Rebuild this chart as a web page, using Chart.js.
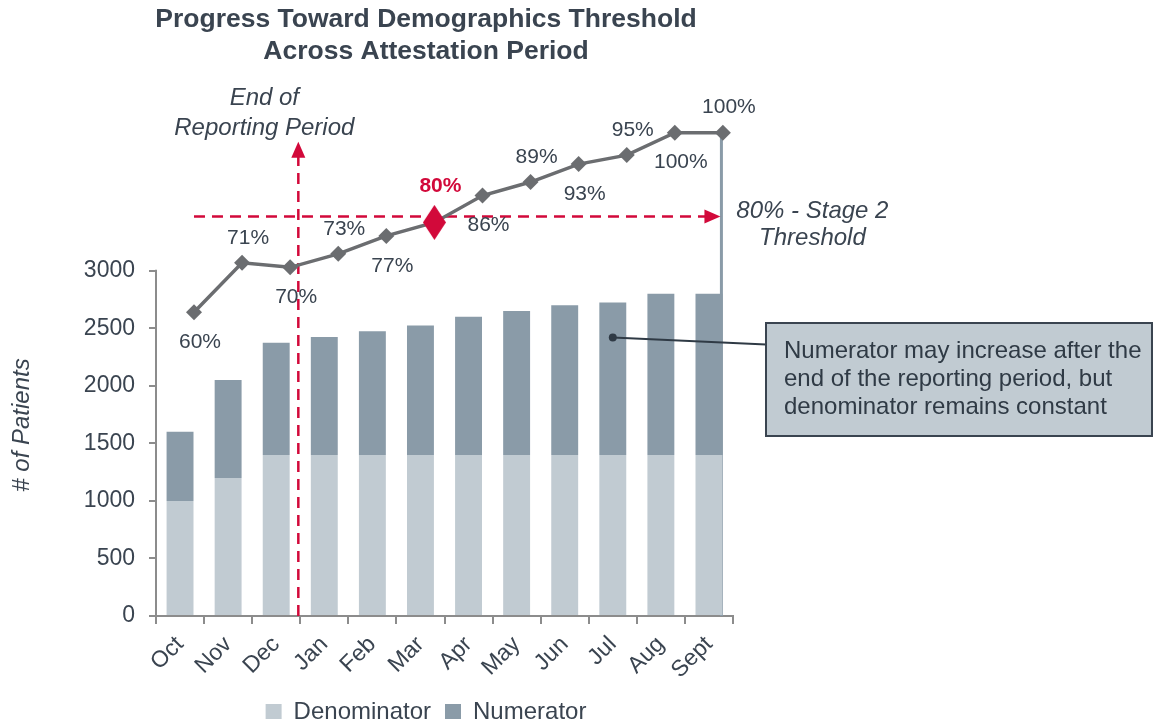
<!DOCTYPE html>
<html>
<head>
<meta charset="utf-8">
<script src="https://cdn.jsdelivr.net/npm/chart.js@4.4.1/dist/chart.umd.min.js"></script>
<style>
  html, body { margin: 0; padding: 0; background: #ffffff; }
  #wrap { width: 1154px; height: 719px; position: relative; }
</style>
</head>
<body>
<div id="wrap"><canvas id="c" width="1154" height="719"></canvas></div>
<script>
// ---------- data ----------
const categories = ['Oct', 'Nov', 'Dec', 'Jan', 'Feb', 'Mar', 'Apr', 'May', 'Jun', 'Jul', 'Aug', 'Sept'];
const denominator = [1000, 1200, 1400, 1400, 1400, 1400, 1400, 1400, 1400, 1400, 1400, 1400];
const numerator = [600, 850, 975, 1025, 1075, 1125, 1200, 1250, 1300, 1325, 1400, 1400];
const percentComplete = [60, 71, 70, 73, 77, 80, 86, 89, 93, 95, 100, 100];
const yTicks = [0, 500, 1000, 1500, 2000, 2500, 3000];
const thresholdPercent = 80;
const thresholdIndex = 5;          // Mar reaches the threshold
const endOfReportingIndex = 2;     // Dec = end of reporting period
const titleLines = ['Progress Toward Demographics Threshold', 'Across Attestation Period'];
const yAxisTitle = '# of Patients';
const endLabelLines = ['End of', 'Reporting Period'];
const thresholdLabelLines = ['80% - Stage 2', 'Threshold'];
const calloutLines = ['Numerator may increase after the', 'end of the reporting period, but', 'denominator remains constant'];
const calloutIndex = 9;            // Jul

// ---------- styles ----------
const FONT = "'Liberation Sans', Arial, Helvetica, sans-serif";
const TEXT = '#3a4450';
const AXIS = '#8c8c8c';
const LIGHT = '#c1cbd2';
const DARK = '#8a9ba8';
const LINE = '#6b6d70';
const RED = '#d2093a';

Chart.defaults.font.family = FONT;
Chart.defaults.color = TEXT;

// tall red diamond used as the threshold point style
const redDiamond = document.createElement('canvas');
redDiamond.width = 23; redDiamond.height = 35;
(function () {
  const g = redDiamond.getContext('2d');
  g.fillStyle = RED;
  g.beginPath();
  g.moveTo(11.5, 0); g.lineTo(23, 17.5); g.lineTo(11.5, 35); g.lineTo(0, 17.5);
  g.closePath(); g.fill();
})();

const lineData = percentComplete.map((v, i) => ({ x: i + 0.29, y: v }));

function arrowHead(ctx, tipX, tipY, dir, len, half) {
  ctx.beginPath();
  if (dir === 'up') {
    ctx.moveTo(tipX, tipY); ctx.lineTo(tipX - half, tipY + len); ctx.lineTo(tipX + half, tipY + len);
  } else {
    ctx.moveTo(tipX, tipY); ctx.lineTo(tipX - len, tipY - half); ctx.lineTo(tipX - len, tipY + half);
  }
  ctx.closePath(); ctx.fill();
}

function lastBarEdge(chart) {
  const bars = chart.getDatasetMeta(2).data;
  const last = bars[bars.length - 1];
  return last.x + last.width / 2 - 1;
}

const annotations = {
  id: 'annotations',
  beforeDatasetsDraw(chart) {
    const { ctx, chartArea: ca, scales } = chart;
    const pts = chart.getDatasetMeta(0).data;
    const grayX = lastBarEdge(chart);
    ctx.save();
    // left axis line (0 .. last tick only)
    ctx.strokeStyle = AXIS; ctx.lineWidth = 2;
    ctx.beginPath();
    ctx.moveTo(ca.left, scales.y.getPixelForValue(yTicks[0]));
    ctx.lineTo(ca.left, scales.y.getPixelForValue(yTicks[yTicks.length - 1]) - 1);
    ctx.stroke();
    // gray drop line from last point
    ctx.strokeStyle = DARK; ctx.lineWidth = 3;
    ctx.beginPath(); ctx.moveTo(grayX, pts[pts.length - 1].y); ctx.lineTo(grayX, ca.bottom); ctx.stroke();

    // red dashed threshold line
    const ty = scales.y2.getPixelForValue(thresholdPercent) - 6;
    ctx.strokeStyle = RED; ctx.fillStyle = RED; ctx.lineWidth = 2.5;
    ctx.setLineDash([11, 7]);
    ctx.beginPath(); ctx.moveTo(pts[0].x, ty); ctx.lineTo(grayX - 14, ty); ctx.stroke();
    // red dashed end-of-reporting line
    const vx = scales.x2.getPixelForValue(endOfReportingIndex + 0.46);
    const tipY = scales.y2.getPixelForValue(98);
    ctx.beginPath(); ctx.moveTo(vx, ca.bottom); ctx.lineTo(vx, tipY + 14); ctx.stroke();
    ctx.setLineDash([]);
    arrowHead(ctx, grayX - 1, ty, 'right', 16, 7);
    arrowHead(ctx, vx, tipY, 'up', 16, 7);
    ctx.restore();
  },
  afterDatasetsDraw(chart) {
    const { ctx, scales } = chart;
    const pts = chart.getDatasetMeta(0).data;
    const bars = chart.getDatasetMeta(2).data;
    const grayX = lastBarEdge(chart);
    ctx.save();
    ctx.textAlign = 'center'; ctx.textBaseline = 'middle';
    // percent labels
    pts.forEach((p, i) => {
      const txt = percentComplete[i] + '%';
      if (i === thresholdIndex) {
        ctx.font = 'bold 21px ' + FONT; ctx.fillStyle = RED;
        ctx.fillText(txt, p.x + 6, p.y - 36);
      } else {
        ctx.font = '21px ' + FONT; ctx.fillStyle = TEXT;
        const above = i % 2 === 1;
        ctx.fillText(txt, p.x + 6, p.y + (above ? -25 : 30));
      }
    });
    // italic annotations
    ctx.font = 'italic 24px ' + FONT; ctx.fillStyle = TEXT;
    const vx = scales.x2.getPixelForValue(endOfReportingIndex + 0.46);
    ctx.fillText(endLabelLines[0], vx - 34, 98);
    ctx.fillText(endLabelLines[1], vx - 34, 128);
    const ty = scales.y2.getPixelForValue(thresholdPercent) - 6;
    ctx.fillText(thresholdLabelLines[0], grayX + 91, ty - 5);
    ctx.fillText(thresholdLabelLines[1], grayX + 91, ty + 22);

    // y axis title
    ctx.save();
    ctx.translate(22, 425); ctx.rotate(-Math.PI / 2);
    ctx.font = 'italic 24px ' + FONT;
    ctx.fillText(yAxisTitle, 0, 0);
    ctx.restore();

    // callout
    const cb = bars[calloutIndex];
    const dotX = cb.x, dotY = cb.y + 35;
    const bx = 766, by = 323, bw = 386, bh = 113;
    ctx.strokeStyle = '#2f3a45'; ctx.lineWidth = 2;
    ctx.beginPath(); ctx.moveTo(dotX, dotY); ctx.lineTo(bx, dotY + 7); ctx.stroke();
    ctx.fillStyle = '#2f3a45';
    ctx.beginPath(); ctx.arc(dotX, dotY, 4, 0, Math.PI * 2); ctx.fill();
    ctx.fillStyle = LIGHT; ctx.fillRect(bx, by, bw, bh);
    ctx.strokeStyle = '#3a4450'; ctx.strokeRect(bx, by, bw, bh);
    ctx.fillStyle = '#2f3a45'; ctx.textAlign = 'left';
    ctx.font = '24px ' + FONT;
    calloutLines.forEach((t, k) => ctx.fillText(t, bx + 18, by + 28 + k * 28));
    ctx.restore();
  }
};

new Chart(document.getElementById('c'), {
  data: {
    labels: categories,
    datasets: [
      {
        type: 'line', label: 'Percent', data: lineData,
        xAxisID: 'x2', yAxisID: 'y2', order: 0,
        borderColor: LINE, borderWidth: 3.5,
        pointStyle: (c) => c.dataIndex === thresholdIndex ? redDiamond : 'rectRot',
        pointRadius: 8, pointHoverRadius: 8,
        pointBackgroundColor: LINE, pointBorderWidth: 0,
      },
      {
        type: 'bar', label: 'Denominator', data: denominator, order: 1, grouped: false,
        backgroundColor: LIGHT, stack: 's', categoryPercentage: 1, barPercentage: 0.56,
      },
      {
        type: 'bar', label: 'Numerator', data: numerator, order: 2, grouped: false,
        backgroundColor: DARK, stack: 's', categoryPercentage: 1, barPercentage: 0.56,
      }
    ]
  },
  options: {
    responsive: false, animation: false, devicePixelRatio: 1,
    layout: { padding: { left: 0, right: 302, top: 0, bottom: -15 } },
    plugins: {
      tooltip: { enabled: false },
      title: {
        display: true, text: titleLines, color: TEXT,
        font: { size: 26.5, weight: 'bold', lineHeight: 1.21 },
        padding: { top: 4, bottom: 30 }
      },
      legend: {
        position: 'bottom',
        labels: {
          filter: (item) => item.text !== 'Percent',
          boxWidth: 16, boxHeight: 16, padding: 14, color: TEXT,
          font: { size: 24 }
        }
      }
    },
    scales: {
      x: {
        offset: true, stacked: true,
        grid: { offset: true, drawOnChartArea: false, tickLength: 8, color: AXIS, lineWidth: 2 },
        border: { color: AXIS, width: 2 },
        ticks: { font: { size: 23 }, color: TEXT, minRotation: 45, maxRotation: 45, padding: 7 },
        afterFit: (s) => { s.height = s.chart.height + 15 - 616 - s.chart.legend.height; }
      },
      x2: { type: 'linear', display: false, min: -0.5, max: 11.5 },
      y: {
        stacked: true, min: 0, max: 4500,
        grid: { drawOnChartArea: false, tickLength: 7, color: AXIS, lineWidth: 2 },
        border: { display: false },
        ticks: { font: { size: 23 }, color: TEXT, padding: 14, callback: (v) => String(v) },
        afterBuildTicks: (s) => { s.ticks = yTicks.map(v => ({ value: v })); },
        afterFit: (s) => { s.width = 156; }
      },
      y2: {
        position: 'right', min: -7.7, max: 107.7,
        grid: { display: false }, border: { display: false },
        ticks: { display: false },
        afterFit: (s) => { s.width = 852 - 733; }
      }
    }
  },
  plugins: [annotations]
});
</script>
</body>
</html>
